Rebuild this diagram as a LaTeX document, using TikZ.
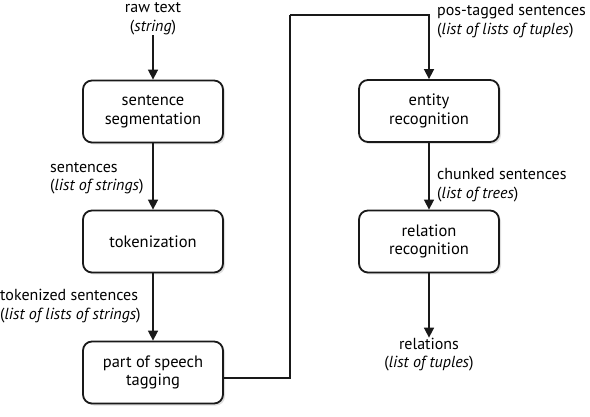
\documentclass[tikz,border=0pt]{standalone}
\usepackage{fontspec}
\setmainfont{PT Sans}
\usetikzlibrary{arrows.meta,shadows,calc}
\begin{document}
\begin{tikzpicture}[x=1pt,y=-1pt,
  stage/.style={draw=black!90, line width=1.8pt, rounded corners=9pt, fill=white,
    minimum width=140pt, minimum height=62pt, align=center, inner sep=2pt,
    font=\fontsize{16.5}{18.5}\selectfont,
    drop shadow={opacity=0.25, shadow xshift=2pt, shadow yshift=-2pt}},
  lbl/.style={font=\fontsize{16}{18.5}\selectfont, inner sep=0pt},
  arr/.style={draw=black!90, line width=1.6pt, -{Triangle[length=10pt,width=10pt]}},
  conn/.style={draw=black!90, line width=1.6pt}]
\useasboundingbox (0,0) rectangle (590,417);
\node[stage] (seg) at (153,111.5) {sentence\\segmentation};
\node[stage] (tok) at (153,241.5) {tokenization};
\node[stage] (pos) at (153,372.5) {part of speech\\tagging};
\node[stage] (ent) at (429,111) {entity\\recognition};
\node[stage] (rel) at (429,241.5) {relation\\recognition};
\node[lbl, align=center] (raw) at (153,19) {raw text\\(\textit{string})};
\node[lbl, align=center] (out) at (429,354.5) {relations\\(\textit{list of tuples})};
\node[lbl, align=left, anchor=west] (l1) at (50,178.5) {sentences\\(\textit{list of strings})};
\node[lbl, align=left, anchor=west] (l2) at (0,306) {tokenized sentences\\(\textit{list of lists of strings})};
\node[lbl, align=left, anchor=west] (l3) at (437,21) {pos-tagged sentences\\(\textit{list of lists of tuples})};
\node[lbl, align=left, anchor=west] (l4) at (437,185) {chunked sentences\\(\textit{list of trees})};
\draw[arr] (raw) -- (seg);
\draw[arr] (seg) -- (tok);
\draw[arr] (tok) -- (pos);
\draw[arr] (ent) -- (rel);
\draw[arr] (rel) -- (out);
\coordinate (p0) at ($(pos.east)+(0,5.5)$);
\coordinate (c1) at (290,15);
\draw[conn] (p0) -| (c1);
\draw[arr] (c1) -| (ent.north);
\end{tikzpicture}
\end{document}
